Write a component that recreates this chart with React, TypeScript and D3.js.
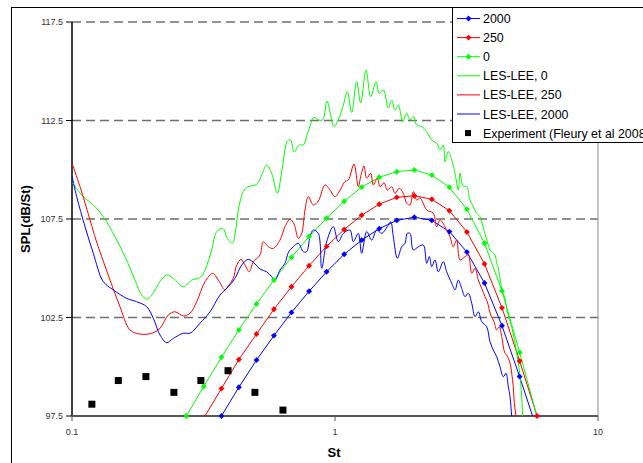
import * as d3 from 'd3';

// Strouhal numbers shared by the three marker series
const stMarks = [0.272, 0.317, 0.370, 0.431, 0.503, 0.586, 0.683, 0.797, 0.929, 1.084, 1.263, 1.473, 1.718, 2.003, 2.335, 2.723, 3.174, 3.702, 4.315, 5.034, 5.867];
const spl2000 = [null, null, 97.5, 98.96, 100.34, 101.58, 102.76, 103.83, 104.82, 105.71, 106.43, 107.01, 107.43, 107.59, 107.43, 106.86, 105.82, 104.25, 102.08, 99.5, 96.8];
const spl250 = [null, 97.4, 98.89, 100.37, 101.66, 102.92, 104.06, 105.13, 106.11, 106.97, 107.69, 108.25, 108.60, 108.68, 108.50, 107.92, 106.84, 105.22, 102.99, 100.29, 97.5];
const spl0 = [97.5, 99.0, 100.48, 101.87, 103.19, 104.40, 105.56, 106.61, 107.54, 108.40, 109.12, 109.62, 109.90, 109.99, 109.73, 109.11, 107.99, 106.27, 103.85, 100.73, 97.45];

// LES-LEE, 0
const lesSt0 = [0.1, 0.1104, 0.1205, 0.1315, 0.1457, 0.1591, 0.1736, 0.1841, 0.1923, 0.2009, 0.2161, 0.2291, 0.2428, 0.2650, 0.2852, 0.3067, 0.3205, 0.3398, 0.3550, 0.3741, 0.3895, 0.4069, 0.4192, 0.4289, 0.4481, 0.4669, 0.5038, 0.5264, 0.5489, 0.5745, 0.6034, 0.6288, 0.6598, 0.6786, 0.6984, 0.7317, 0.7578, 0.7916, 0.8322, 0.8656, 0.8979, 0.9323, 0.9630, 0.9913, 1.029, 1.076, 1.114, 1.157, 1.209, 1.252, 1.312, 1.367, 1.432, 1.474, 1.527, 1.595, 1.643, 1.691, 1.741, 1.809, 1.873, 1.928, 1.985, 2.045, 2.137, 2.232, 2.332, 2.436, 2.508, 2.581, 2.620, 2.697, 2.778, 2.860, 2.943, 2.988, 3.075, 3.168, 3.261, 3.357, 3.458, 3.559, 3.664, 3.794, 3.885, 4.059, 4.119, 4.178, 4.304, 4.430, 4.520, 4.698, 4.835, 4.934, 5.021, 5.083, 5.127, 5.173, 5.22];
const lesSpl0 = [109.35, 108.63, 108.21, 107.62, 106.60, 105.59, 104.40, 103.64, 103.44, 103.64, 104.32, 104.66, 104.49, 104.06, 104.40, 104.52, 104.91, 105.93, 106.86, 107.03, 106.52, 106.27, 106.94, 107.96, 108.89, 109.14, 109.26, 109.73, 110.24, 109.82, 108.80, 109.99, 111.46, 111.51, 110.90, 111.26, 111.26, 111.97, 112.66, 112.53, 112.53, 113.49, 112.78, 112.19, 112.53, 113.29, 113.96, 112.91, 114.47, 113.39, 115.06, 113.71, 114.47, 113.88, 114.05, 113.13, 113.54, 113.03, 113.29, 112.44, 112.87, 112.53, 112.69, 112.27, 112.19, 111.93, 111.51, 111.34, 111.00, 111.26, 110.41, 110.92, 110.50, 109.82, 108.97, 109.82, 109.14, 109.14, 108.46, 108.12, 107.79, 107.62, 107.04, 106.35, 105.93, 105.67, 105.25, 105.00, 103.98, 103.47, 102.79, 102.03, 101.19, 100.51, 99.84, 99.16, 98.48, 97.5, 96.8];

// LES-LEE, 250
const lesSt250 = [0.1, 0.1073, 0.1171, 0.1234, 0.1297, 0.1395, 0.1522, 0.1661, 0.1814, 0.2009, 0.2161, 0.2324, 0.2464, 0.2650, 0.2810, 0.2979, 0.3205, 0.3428, 0.3600, 0.3817, 0.3929, 0.4105, 0.4229, 0.4391, 0.4548, 0.4722, 0.4891, 0.5185, 0.5338, 0.5577, 0.5826, 0.6179, 0.6455, 0.6744, 0.6984, 0.7253, 0.7472, 0.7691, 0.7916, 0.8270, 0.8640, 0.9161, 0.9572, 1.000, 1.045, 1.091, 1.124, 1.181, 1.226, 1.252, 1.289, 1.320, 1.367, 1.398, 1.448, 1.483, 1.536, 1.581, 1.643, 1.691, 1.756, 1.819, 1.873, 1.928, 1.985, 2.045, 2.105, 2.232, 2.365, 2.436, 2.508, 2.659, 2.737, 2.817, 2.902, 2.988, 3.122, 3.213, 3.311, 3.407, 3.507, 3.612, 3.718, 3.794, 3.908, 4.024, 4.119, 4.214, 4.304, 4.430, 4.497, 4.629, 4.698, 4.764, 4.806, 4.878, 4.95];
const lesSpl250 = [110.33, 109.14, 107.45, 106.43, 105.59, 104.40, 103.05, 101.87, 101.66, 101.70, 101.95, 102.63, 102.79, 102.58, 102.71, 103.30, 104.32, 104.74, 104.40, 103.90, 104.10, 104.49, 105.16, 105.45, 105.16, 104.82, 105.33, 105.67, 106.35, 106.09, 106.01, 106.43, 107.11, 107.48, 107.25, 106.52, 106.77, 107.96, 108.63, 108.21, 108.41, 109.23, 108.97, 108.63, 108.97, 109.40, 109.48, 110.29, 109.14, 109.65, 110.19, 109.57, 109.82, 109.23, 109.57, 109.14, 109.34, 108.97, 109.14, 108.80, 109.06, 108.80, 108.30, 108.21, 108.89, 108.46, 108.57, 107.96, 107.79, 107.11, 107.45, 106.94, 106.60, 106.09, 106.43, 105.42, 105.59, 105.67, 104.74, 105.00, 104.40, 103.98, 103.56, 103.30, 102.63, 102.29, 101.87, 102.03, 101.53, 100.68, 100.60, 100.18, 99.67, 98.99, 98.14, 97.5, 96.8];

// LES-LEE, 2000
const lesSt2000 = [0.1, 0.1042, 0.1121, 0.1205, 0.1315, 0.1436, 0.1614, 0.1762, 0.1923, 0.2038, 0.2161, 0.2291, 0.2428, 0.2650, 0.2810, 0.3067, 0.3348, 0.3653, 0.3929, 0.4167, 0.4418, 0.4681, 0.4964, 0.5185, 0.5499, 0.5745, 0.5914, 0.6179, 0.6455, 0.6656, 0.6941, 0.7253, 0.7578, 0.7806, 0.8034, 0.8270, 0.8640, 0.8903, 0.9299, 0.9851, 1.029, 1.076, 1.140, 1.174, 1.226, 1.263, 1.320, 1.379, 1.441, 1.505, 1.581, 1.629, 1.666, 1.726, 1.793, 1.846, 1.883, 1.928, 1.985, 2.074, 2.167, 2.232, 2.284, 2.332, 2.400, 2.471, 2.581, 2.659, 2.778, 2.860, 2.943, 3.032, 3.122, 3.213, 3.311, 3.407, 3.507, 3.612, 3.774, 3.885, 3.999, 4.119, 4.241, 4.365, 4.469, 4.560, 4.629, 4.698, 4.76];
const lesSpl2000 = [109.68, 108.63, 107.11, 105.76, 104.32, 103.90, 103.47, 103.30, 103.05, 102.46, 101.61, 101.22, 101.44, 101.70, 101.70, 102.21, 102.79, 103.64, 104.06, 104.49, 105.16, 105.45, 105.22, 104.96, 104.82, 104.57, 104.40, 104.91, 105.25, 105.82, 106.09, 106.27, 105.84, 105.84, 106.60, 106.94, 106.77, 105.00, 106.35, 107.11, 106.35, 106.77, 106.94, 106.35, 106.77, 105.76, 106.86, 106.43, 106.94, 106.77, 107.11, 107.36, 106.60, 105.51, 106.09, 106.27, 106.77, 106.77, 105.93, 106.09, 106.18, 105.25, 105.59, 105.08, 105.42, 104.82, 105.33, 104.82, 104.24, 103.90, 104.40, 103.98, 103.56, 103.73, 103.22, 102.54, 102.79, 102.29, 102.03, 101.27, 100.85, 100.51, 100.00, 99.49, 99.67, 98.99, 98.48, 97.5, 96.8];

// Experiment (Fleury et al 2008)
const expSt = [0.119, 0.150, 0.191, 0.244, 0.309, 0.392, 0.496, 0.634];
const expSpl = [98.1, 99.3, 99.5, 98.7, 99.3, 99.8, 98.7, 97.8];

const yTicks = [97.5, 102.5, 107.5, 112.5, 117.5];
const xTicks = [0.1, 1, 10];

const font = '"Liberation Sans", Arial, sans-serif';

type Pt = { st: number; spl: number };

const zip = (xs: number[], ys: (number | null)[]): Pt[] =>
  xs.map((st, i) => ({ st, spl: ys[i] as number })).filter((d) => d.spl != null && !isNaN(d.spl));

const markerSeries = [
  { name: '2000', color: '#0000FF', data: zip(stMarks, spl2000) },
  { name: '250', color: '#FF0000', data: zip(stMarks, spl250) },
  { name: '0', color: '#00FF00', data: zip(stMarks, spl0) },
];
const lesSeries = [
  { name: 'LES-LEE, 0', color: '#00FF00', data: zip(lesSt0, lesSpl0) },
  { name: 'LES-LEE, 250', color: '#FF0000', data: zip(lesSt250, lesSpl250) },
  { name: 'LES-LEE, 2000', color: '#0000FF', data: zip(lesSt2000, lesSpl2000) },
];

export default function App() {
  const left = 72, right = 598, top = 22, bottom = 416;
  const x = d3.scaleLog().domain([0.1, 10]).range([left, right]);
  const y = d3.scaleLinear().domain([97.5, 117.5]).range([bottom, top]);

  const straight = d3.line<Pt>().x((d) => x(d.st)).y((d) => y(d.spl));
  const smooth = d3.line<Pt>().x((d) => x(d.st)).y((d) => y(d.spl)).curve(d3.curveCatmullRom.alpha(0.5));
  const diamond = d3.symbol().type(d3.symbolDiamond2).size(22)() as string;

  const legendItems = [
    ...markerSeries.map((s) => ({ ...s, kind: 'marker' })),
    ...lesSeries.map((s) => ({ ...s, kind: 'line' })),
    { name: 'Experiment (Fleury et al 2008)', color: '#000', kind: 'square' },
  ];

  return (
    <svg width={643} height={463} style={{ position: 'absolute', left: 0, top: 0, background: '#fff' }}
      fontFamily={font}>
      <defs>
        <clipPath id="plot">
          <rect x={left} y={top} width={right - left} height={bottom - top} />
        </clipPath>
      </defs>
      {/* chart border */}
      <rect x={11.5} y={7.5} width={700} height={500} fill="#fff" stroke="#000" strokeWidth={1} />

      {/* gridlines */}
      {yTicks.map((t) => (
        <line key={t} x1={left} x2={right} y1={y(t)} y2={y(t)} stroke="#6e6e6e" strokeWidth={1.5}
          strokeDasharray="9,5" />
      ))}
      <line x1={right} x2={right} y1={top} y2={bottom} stroke="#8c8c8c" strokeWidth={1} />

      {/* y axis */}
      <line x1={left} x2={left} y1={top} y2={bottom} stroke="#000" strokeWidth={1.5} />
      {yTicks.map((t) => (
        <g key={t}>
          <line x1={left - 6} x2={left} y1={y(t)} y2={y(t)} stroke="#000" />
          <text x={left - 9} y={y(t) + 3} textAnchor="end" fontSize={9} fill="#333">{t.toFixed(1)}</text>
        </g>
      ))}
      {/* x axis */}
      <line x1={left} x2={right} y1={bottom} y2={bottom} stroke="#555" strokeWidth={2} />
      {xTicks.map((t) => (
        <g key={t}>
          <line x1={x(t)} x2={x(t)} y1={bottom} y2={bottom + 5} stroke="#555" />
          <text x={x(t)} y={bottom + 19} textAnchor="middle" fontSize={9} fill="#333">{t}</text>
        </g>
      ))}

      <text x={334} y={457} textAnchor="middle" fontSize={13} fontWeight="bold">St</text>
      <text transform={`translate(30,${(top + bottom) / 2}) rotate(-90)`} textAnchor="middle" fontSize={13}
        fontWeight="bold">SPL(dB/St)</text>

      <g clipPath="url(#plot)">
        {markerSeries.map((s) => (
          <path key={s.name} d={straight(s.data) || ''} fill="none" stroke={s.color} strokeWidth={1} />
        ))}
        {lesSeries.map((s) => (
          <path key={s.name} d={smooth(s.data) || ''} fill="none" stroke={s.color} strokeWidth={1} />
        ))}
      </g>
      {markerSeries.map((s) => (
        <g key={s.name}>
          {s.data.filter((d) => d.spl >= 97.5).map((d, i) => (
            <path key={i} d={diamond} transform={`translate(${x(d.st)},${y(d.spl)})`} fill={s.color} />
          ))}
        </g>
      ))}
      {expSt.map((st, i) => (
        <rect key={i} x={x(st) - 3.5} y={y(expSpl[i]) - 3.5} width={7} height={7} fill="#000" />
      ))}

      {/* legend */}
      <rect x={452.5} y={7.5} width={300} height={135} fill="#fff" stroke="#000" strokeWidth={1} />
      {legendItems.map((it, i) => {
        const ly = 18.5 + i * 19.1;
        return (
          <g key={it.name}>
            {it.kind !== 'square' && (
              <line x1={457} x2={480} y1={ly} y2={ly} stroke={it.color} strokeWidth={1} />
            )}
            {it.kind === 'marker' && (
              <path d={diamond} transform={`translate(468.5,${ly})`} fill={it.color} />
            )}
            {it.kind === 'square' && <rect x={465} y={ly - 3} width={6} height={6} fill="#000" />}
            <text x={483} y={ly + 4.5} fontSize={12.4} fill="#000">{it.name}</text>
          </g>
        );
      })}
    </svg>
  );
}
